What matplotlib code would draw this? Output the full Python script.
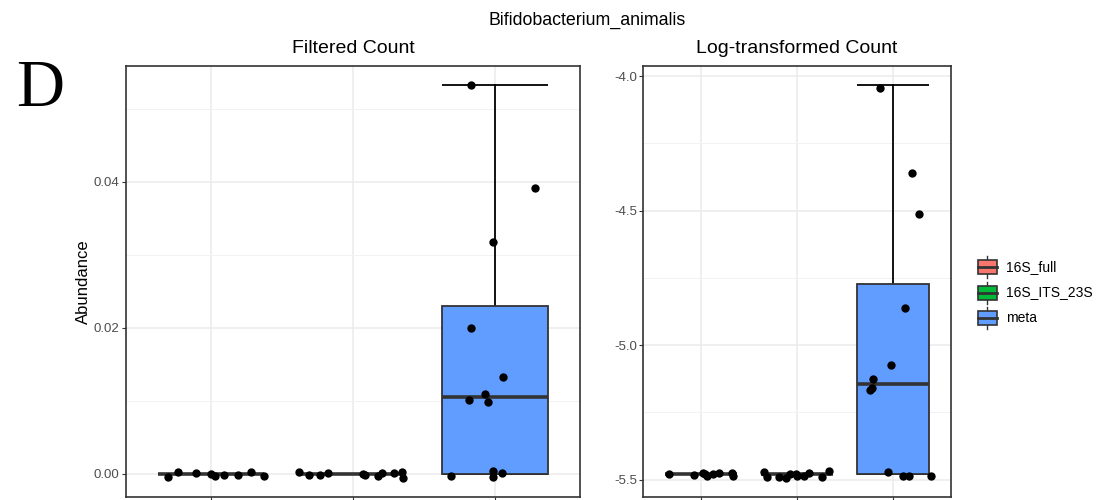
import numpy as np
import matplotlib
matplotlib.use("Agg")
import matplotlib.pyplot as plt
from matplotlib.patches import Rectangle

plt.rcParams['font.family'] = ['Liberation Sans', 'DejaVu Sans']
plt.rcParams['axes.unicode_minus'] = False

groups = ["16S_full", "16S_ITS_23S", "meta"]
group_colors = ["#F8766D", "#00BA38", "#619CFF"]

# filtered abundance per sample
filt_full = [0.0] * 9
filt_its = [0.0] * 11
filt_meta = [0.0533, 0.0392, 0.0318, 0.0200, 0.0133, 0.0110, 0.0101, 0.0098,
             0.0, 0.0, 0.0, 0.0]

# log-transformed abundance per sample
log_full = [-5.481] * 9
log_its = [-5.481] * 11
log_meta = [-4.032, -4.359, -4.511, -4.862, -5.075, -5.127, -5.160, -5.167,
            -5.481, -5.481, -5.481, -5.481]

# jitter of the plotted points: x in category units, y in data units
filt_jit_x = {
    "16S_full": [-0.305, -0.237, -0.104, 0.0, 0.028, 0.092, 0.190, 0.282, 0.376],
    "16S_ITS_23S": [-0.382, -0.309, -0.232, -0.175, 0.071, 0.085, 0.175, 0.207,
                    0.292, 0.344, 0.351],
    "meta": [-0.170, 0.283, -0.015, -0.168, 0.058, -0.067, -0.182, -0.050,
             -0.309, -0.011, -0.013, 0.051],
}
filt_jit_y = {
    "16S_full": [-0.0004, 0.0003, 0.0002, 0.0, -0.0003, -0.0002, -0.0002, 0.0003, -0.0003],
    "16S_ITS_23S": [0.0003, -0.0002, -0.0001, 0.0002, 0.0, -0.0002, -0.0003, 0.0001,
                    0.0002, 0.0003, -0.0005],
    "meta": [0, 0, 0, 0, 0, 0, 0, 0, -0.0003, 0.0004, -0.0004, 0.0001],
}
log_jit_x = {
    "16S_full": [-0.332, -0.069, 0.019, 0.067, 0.129, 0.185, 0.321, 0.331, 0.043],
    "16S_ITS_23S": [-0.344, -0.315, -0.187, -0.111, -0.010, 0.003, 0.073, 0.125,
                    0.257, 0.336, -0.073],
    "meta": [-0.132, 0.195, 0.271, 0.128, -0.021, -0.205, -0.219, -0.236,
             -0.052, 0.101, 0.170, 0.396],
}
log_jit_y = {
    "16S_full": [0.0, -0.004, 0.005, -0.007, 0.003, 0.007, 0.005, -0.006, 0.0],
    "16S_ITS_23S": [0.009, -0.011, -0.011, -0.012, 0.003, -0.007, -0.007, 0.006,
                    -0.009, 0.011, 0.0],
    "meta": [-0.010, 0, 0, 0, 0, 0, 0, 0, 0.009, -0.006, -0.006, -0.006],
}

filt_data = dict(zip(groups, [filt_full, filt_its, filt_meta]))
log_data = dict(zip(groups, [log_full, log_its, log_meta]))

W, H = 1105, 500
fig = plt.figure(figsize=(W / 100, H / 100), dpi=100)


def px_axes(x0, y0, x1, y1):
    return fig.add_axes([x0 / W, 1 - y1 / H, (x1 - x0) / W, (y1 - y0) / H])


def draw_panel(ax, data, jit_x, jit_y):
    hw = 0.375
    for i, (g, col) in enumerate(zip(groups, group_colors)):
        v = np.asarray(data[g], dtype=float)
        q1, med, q3 = np.percentile(v, [25, 50, 75])
        iqr = q3 - q1
        lo = v[v >= q1 - 1.5 * iqr].min()
        hi = v[v <= q3 + 1.5 * iqr].max()
        # errorbar-style whiskers with caps
        ax.plot([i, i], [lo, hi], color='black', lw=1.3, zorder=2)
        for yy in (lo, hi):
            ax.plot([i - hw, i + hw], [yy, yy], color='black', lw=1.3,
                    solid_capstyle='butt', zorder=2)
        ax.add_patch(Rectangle((i - hw, q1), 2 * hw, q3 - q1, facecolor=col,
                               edgecolor='#333333', lw=1.3, zorder=3))
        ax.plot([i - hw, i + hw], [med, med], color='#333333', lw=2.6,
                solid_capstyle='butt', zorder=4)
        ax.scatter(i + np.asarray(jit_x[g]), v + np.asarray(jit_y[g]),
                   s=36, color='black', lw=0, zorder=5)


def style_axes(ax, title, major, minor, fmt):
    ax.set_xlim(-0.6, 2.6)
    ax.set_xticks([0, 1, 2])
    ax.set_xticklabels([])
    ax.set_yticks(major)
    ax.set_yticklabels([fmt % t for t in major])
    ax.set_yticks(minor, minor=True)
    ax.set_axisbelow(True)
    ax.grid(which='major', color='#EBEBEB', lw=1.1)
    ax.grid(which='minor', axis='y', color='#F2F2F2', lw=0.7)
    ax.tick_params(which='major', length=3, width=0.8, color='#333333',
                   labelcolor='#4D4D4D', labelsize=9.5, pad=1.5)
    ax.tick_params(which='minor', length=0)
    for s in ax.spines.values():
        s.set_color('#333333')
        s.set_linewidth(1.2)
    ax.set_title(title, fontsize=14, pad=9)


ax1 = px_axes(126, 65.7, 580, 497)
draw_panel(ax1, filt_data, filt_jit_x, filt_jit_y)
ax1.set_ylim(-0.00315, 0.0559)
style_axes(ax1, "Filtered Count", [0.0, 0.02, 0.04], [0.01, 0.03, 0.05], "%.2f")
ax1.set_ylabel("Abundance", fontsize=12)
ax1.yaxis.set_label_coords(-0.094, 0.5)
ax1.yaxis.label.set_va('center')

ax2 = px_axes(643.3, 65.7, 950.7, 497)
draw_panel(ax2, log_data, log_jit_x, log_jit_y)
ax2.set_ylim(-5.565, -3.9606)
style_axes(ax2, "Log-transformed Count", [-5.5, -5.0, -4.5, -4.0],
           [-5.25, -4.75, -4.25], "%.1f")

fig.text(587.5 / W, 1 - 25 / H, "Bifidobacterium_animalis", ha='center',
         va='baseline', fontsize=12.8)
fig.text(16 / W, 1 - 106 / H, "D", ha='left', va='baseline', fontsize=48,
         family='Liberation Serif')

# legend with boxplot glyphs
lax = fig.add_axes([0, 0, 1, 1])
lax.set_xlim(0, W)
lax.set_ylim(H, 0)
lax.axis('off')
for k, (g, col) in enumerate(zip(groups, group_colors)):
    cy = 267 + 25.5 * k
    lax.plot([987, 987], [cy - 11, cy + 11], color='#333333', lw=1.0)
    lax.add_patch(Rectangle((977.5, cy - 7), 19.5, 14, facecolor=col,
                            edgecolor='#333333', lw=1.2, zorder=3))
    lax.plot([977.5, 997], [cy, cy], color='#333333', lw=2.0, zorder=4)
    lax.text(1006, cy, g, ha='left', va='center', fontsize=10)

fig.savefig("out.png", dpi=100)
